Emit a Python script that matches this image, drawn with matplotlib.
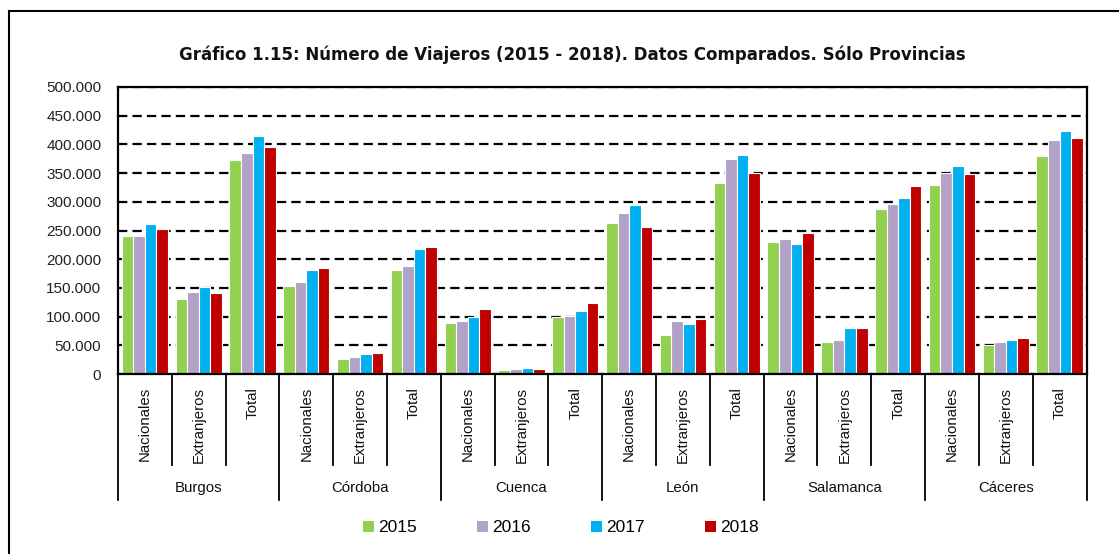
import matplotlib
matplotlib.use("Agg")
import matplotlib.pyplot as plt
import numpy as np
from matplotlib.lines import Line2D
from matplotlib.patches import Patch
import matplotlib.transforms as mtransforms
from matplotlib.ticker import FuncFormatter

provinces = ["Burgos", "Córdoba", "Cuenca", "León", "Salamanca", "Cáceres"]
subcats = ["Nacionales", "Extranjeros", "Total"]
years = ["2015", "2016", "2017", "2018"]
colors = ["#92D050", "#B3A2C7", "#00B0F0", "#C00000"]

# values in thousands, order: province x (Nacionales, Extranjeros, Total)
v2015 = [240, 131, 372, 153, 26, 181, 89, 7, 99, 263, 68, 332, 230, 56, 287, 329, 50, 379]
v2016 = [240, 143, 385, 160, 29, 189, 92, 8, 101, 281, 92, 375, 236, 59, 297, 350, 56, 408]
v2017 = [262, 151, 414, 182, 35, 218, 100, 10, 110, 294, 87, 382, 226, 80, 306, 363, 59, 423]
v2018 = [253, 141, 395, 185, 36, 221, 113, 9, 123, 256, 95, 351, 245, 81, 327, 349, 62, 412]
series = [v2015, v2016, v2017, v2018]

title = "Gráfico 1.15: Número de Viajeros (2015 - 2018). Datos Comparados. Sólo Provincias"

plt.rcParams['font.family'] = ['Liberation Sans', 'DejaVu Sans']

W, H = 1119, 554
fig = plt.figure(figsize=(W / 100, H / 100), dpi=100)
ax = fig.add_axes([118 / W, 1 - 374 / H, (1086.5 - 118) / W, (374 - 87) / H])

n = len(provinces) * len(subcats)
x = np.arange(n)
bw = 0.215
for i, (vals, c) in enumerate(zip(series, colors)):
    ax.bar(x + (i - 1.5) * bw, np.array(vals) * 1000, width=bw, color=c,
           edgecolor="white", linewidth=0.8, zorder=3, label=years[i])

ax.set_xlim(-0.5, n - 0.5)
ax.set_ylim(0, 500000)
ax.set_yticks(np.arange(0, 500001, 50000))
ax.yaxis.set_major_formatter(FuncFormatter(lambda v, p: f"{int(v):,}".replace(",", ".")))
ax.tick_params(axis="y", length=0, pad=12, labelsize=11, colors="#222222")
ax.set_xticks([])
ax.set_axisbelow(True)
ax.grid(axis="y", color="black", linestyle=(0, (4.2, 2.3)), linewidth=1.6, zorder=1)
for s in ax.spines.values():
    s.set_linewidth(1.6)
    s.set_color("black")
    s.set_zorder(4)

trans = mtransforms.blended_transform_factory(ax.transData, ax.transAxes)
# separators
for k in range(n + 1):
    if k % 3 == 0:
        y1 = -0.439
    else:
        y1 = -0.317
    ax.add_line(Line2D([k - 0.5, k - 0.5], [0, y1], transform=trans, color="black",
                       linewidth=1.3, clip_on=False))
# sub-category labels
for k in range(n):
    ax.text(k, -0.045, subcats[k % 3], rotation=90, ha="center", va="top",
            transform=trans, fontsize=10.8, color="#111111")
# province labels
for p, name in enumerate(provinces):
    ax.text(p * 3 + 1, -0.398, name, ha="center", va="center", transform=trans,
            fontsize=10.8, color="#111111")

fig.text(572 / W, 1 - 55 / H, title, ha="center", va="center", fontsize=12,
         fontweight="bold", family="DejaVu Sans", color="#111111")

handles = [Patch(facecolor=c, edgecolor="none") for c in colors]
fig.legend(handles, years, loc="center", bbox_to_anchor=(561 / W, 1 - 528 / H),
           ncol=4, frameon=False, fontsize=12.5, handlelength=0.63, handleheight=0.63,
           handletextpad=0.25, columnspacing=3.45)

# outer border (left and top)
fig.add_artist(Line2D([9 / W, 9 / W], [0, 1 - 11 / H], transform=fig.transFigure,
                      color="black", linewidth=1.5))
fig.add_artist(Line2D([9 / W, 1], [1 - 11 / H, 1 - 11 / H], transform=fig.transFigure,
                      color="black", linewidth=1.5))

fig.savefig("out.png", dpi=100)
